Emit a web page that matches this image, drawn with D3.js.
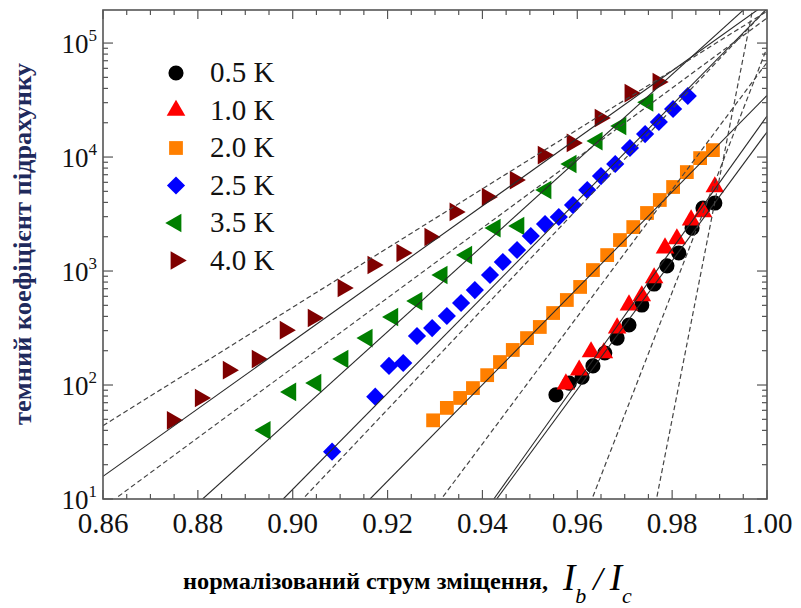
<!DOCTYPE html>
<html>
<head>
<meta charset="utf-8">
<script src="https://cdn.jsdelivr.net/npm/d3@7"></script>
<style>
  body { margin: 0; background: #fff; }
  text { font-family: "Liberation Serif", "DejaVu Serif", serif; }
</style>
</head>
<body>
<svg id="chart" width="801" height="608"></svg>
<script>
// temperatures (legend)
const tempLabels = ['0.5 K', '1.0 K', '2.0 K', '2.5 K', '3.5 K', '4.0 K']
const tempColors = ['#000000', '#ff0000', '#ff7f00', '#0000ff', '#007f00', '#7f0000']

// measured dark counts, x = Ib/Ic
const x05 = [0.9555, 0.9583, 0.9610, 0.9633, 0.9658, 0.9684, 0.9709, 0.9736, 0.9762, 0.9789, 0.9814, 0.9842, 0.9865, 0.9890]
const y05 = [82, 104, 117, 147, 191, 258, 336, 503, 769, 1110, 1440, 2380, 3570, 3950]
const x10 = [0.9576, 0.9604, 0.9629, 0.9656, 0.9684, 0.9709, 0.9736, 0.9762, 0.9785, 0.9810, 0.9840, 0.9865, 0.9890]
const y10 = [102, 135, 195, 191, 316, 503, 604, 869, 1590, 1910, 2800, 3300, 5460]
const x20 = [0.9296, 0.9325, 0.9353, 0.9380, 0.9410, 0.9437, 0.9464, 0.9494, 0.9521, 0.9549, 0.9578, 0.9606,
  0.9633, 0.9663, 0.9690, 0.9718, 0.9747, 0.9774, 0.9802, 0.9831, 0.9859, 0.9886]
const y20 = [49, 63, 77, 94, 122, 159, 203, 258, 323, 428, 557, 725,
  1020, 1380, 1870, 2430, 3230, 4200, 5460, 7380, 9790, 11500]
const x25 = [0.9083, 0.9174, 0.9203, 0.9233, 0.9262, 0.9294, 0.9325, 0.9355, 0.9384, 0.9416, 0.9443, 0.9473,
  0.9502, 0.9532, 0.9561, 0.9591, 0.9621, 0.9650, 0.9680, 0.9711, 0.9743, 0.9772, 0.9802, 0.9833]
const y25 = [26, 79, 147, 156, 269, 316, 403, 524, 681, 923, 1200, 1530,
  2030, 2580, 2980, 3790, 5140, 6810, 8690, 12000, 15900, 20300, 26400, 34300]
const x35 = [0.8942, 0.8996, 0.9049, 0.9106, 0.9157, 0.9211, 0.9262, 0.9315, 0.9367, 0.9427, 0.9477, 0.9534,
  0.9587, 0.9642, 0.9692, 0.9749]
const y35 = [40, 87, 104, 169, 258, 395, 545, 922, 1380, 2380, 2480, 5140,
  8690, 13800, 18700, 30200]
const x40 = [0.8746, 0.8805, 0.8864, 0.8925, 0.8984, 0.9043, 0.9106, 0.9169, 0.9230, 0.9289, 0.9342, 0.9410,
  0.9469, 0.9528, 0.9589, 0.9648, 0.9711, 0.9770]
const y40 = [49, 77, 135, 169, 303, 387, 709, 1130, 1440, 1990, 3300, 4460,
  6280, 10400, 13300, 22000, 36400, 45500]

// fitted lines (solid) and model lines (dashed): [x0, y0, x1, y1]
const solidLines = [
  [0.9430, 10, 1.0, 16600],
  [0.9424, 10, 1.0, 22900],
  [0.9163, 10, 1.0, 34700],
  [0.8980, 10, 1.0, 200000],
  [0.8810, 10, 1.0, 300000],
  [0.8600, 15.8, 1.0, 224000]
]
const dashedLines = [
  [0.9768, 10.5, 0.9970, 200000],
  [0.9633, 10.5, 1.0, 91000],
  [0.9317, 10.5, 1.0, 67600],
  [0.9026, 10.5, 1.0, 200000],
  [0.8632, 10.5, 1.0, 166000],
  [0.8600, 44, 1.0, 190000]
]

const xTicks = [0.86, 0.88, 0.90, 0.92, 0.94, 0.96, 0.98, 1.00]
const yTickExp = [1, 2, 3, 4, 5]

const svg = d3.select('#chart')
const margin = {top: 10, right: 34, bottom: 109, left: 103}
const width = 801 - margin.left - margin.right
const height = 608 - margin.top - margin.bottom
const serif = '"Liberation Serif", "DejaVu Serif", serif'

const x = d3.scaleLinear().domain([0.86, 1.0]).range([0, width])
const y = d3.scaleLog().domain([10, 1.95e5]).range([height, 0])

const g = svg.append('g').attr('transform', 'translate(' + margin.left + ',' + margin.top + ')')

g.append('clipPath').attr('id', 'plotClip')
  .append('rect').attr('width', width).attr('height', height)

// ticks (inward, on all four sides)
const minorX = d3.range(0.86, 1.0001, 0.005)
const minorY = []
for (let e = 1; e <= 5; e++) {
  for (let m = 2; m <= 9; m++) {
    let v = m * Math.pow(10, e)
    if (v < 1.95e5) minorY.push(v)
  }
}
const tickG = g.append('g').attr('stroke', '#555').attr('stroke-width', 1.2)
minorX.forEach(function (v) {
  let isMajor = Math.abs(Math.round(v * 50) - v * 50) < 1e-6
  let len = isMajor ? 9 : 5
  tickG.append('line').attr('x1', x(v)).attr('x2', x(v)).attr('y1', height).attr('y2', height - len)
  tickG.append('line').attr('x1', x(v)).attr('x2', x(v)).attr('y1', 0).attr('y2', len)
})
yTickExp.forEach(function (e) {
  let v = Math.pow(10, e)
  tickG.append('line').attr('x1', 0).attr('x2', 10).attr('y1', y(v)).attr('y2', y(v))
  tickG.append('line').attr('x1', width).attr('x2', width - 10).attr('y1', y(v)).attr('y2', y(v))
})
minorY.forEach(function (v) {
  tickG.append('line').attr('x1', 0).attr('x2', 5).attr('y1', y(v)).attr('y2', y(v))
  tickG.append('line').attr('x1', width).attr('x2', width - 5).attr('y1', y(v)).attr('y2', y(v))
})

// markers
const series = [
  {xs: x05, ys: y05, sym: d3.symbolCircle, size: 180, rot: 0},
  {xs: x10, ys: y10, sym: d3.symbolTriangle, size: 150, rot: 0},
  {xs: x20, ys: y20, sym: d3.symbolSquare, size: 190, rot: 0},
  {xs: x25, ys: y25, sym: d3.symbolSquare, size: 165, rot: 45},
  {xs: x35, ys: y35, sym: d3.symbolTriangle, size: 150, rot: -90},
  {xs: x40, ys: y40, sym: d3.symbolTriangle, size: 150, rot: 90}
]
const drawOrder = [5, 4, 3, 2, 0, 1]
const markG = g.append('g').attr('clip-path', 'url(#plotClip)')
drawOrder.forEach(function (i) {
  let s = series[i]
  let pts = s.xs.map((v, k) => [v, s.ys[k]])
  markG.selectAll('.m' + i)
    .data(pts)
    .enter()
    .append('path')
    .attr('d', d3.symbol().type(s.sym).size(s.size))
    .attr('transform', d => 'translate(' + x(d[0]) + ',' + y(d[1]) + ') rotate(' + s.rot + ')')
    .attr('fill', tempColors[i])
})

// lines on top of the markers
const lineG = g.append('g').attr('clip-path', 'url(#plotClip)').attr('fill', 'none')
lineG.selectAll('.solid')
  .data(solidLines)
  .enter()
  .append('line')
  .attr('x1', d => x(d[0])).attr('y1', d => y(d[1]))
  .attr('x2', d => x(d[2])).attr('y2', d => y(d[3]))
  .attr('stroke', '#2a2a2a').attr('stroke-width', 1.1)
lineG.selectAll('.dash')
  .data(dashedLines)
  .enter()
  .append('line')
  .attr('x1', d => x(d[0])).attr('y1', d => y(d[1]))
  .attr('x2', d => x(d[2])).attr('y2', d => y(d[3]))
  .attr('stroke', '#444').attr('stroke-width', 1.2)
  .attr('stroke-dasharray', '5,3')

// frame
g.append('rect').attr('width', width).attr('height', height)
  .attr('fill', 'none').attr('stroke', '#555').attr('stroke-width', 1.6)

// tick labels
g.selectAll('.xl')
  .data(xTicks)
  .enter()
  .append('text')
  .attr('x', d => x(d))
  .attr('y', height + 34)
  .attr('text-anchor', 'middle')
  .attr('font-family', serif)
  .attr('font-size', 29)
  .attr('fill', '#111')
  .text(d => d.toFixed(2))
const yl = g.selectAll('.yl')
  .data(yTickExp)
  .enter()
  .append('text')
  .attr('x', -6)
  .attr('y', d => y(Math.pow(10, d)) + 10)
  .attr('text-anchor', 'end')
  .attr('font-family', serif)
  .attr('font-size', 27)
  .attr('fill', '#111')
yl.append('tspan').text('10')
yl.append('tspan').attr('dy', -12).attr('font-size', 17).text(d => d)

// legend
const legend = g.append('g').attr('transform', 'translate(73, 63)')
tempLabels.forEach(function (lab, i) {
  let s = series[i]
  let row = legend.append('g').attr('transform', 'translate(0,' + (i * 37.5) + ')')
  row.append('path')
    .attr('d', d3.symbol().type(s.sym).size(s.size))
    .attr('transform', 'rotate(' + s.rot + ')')
    .attr('fill', tempColors[i])
  row.append('text')
    .attr('x', 34).attr('y', 9)
    .attr('font-family', serif)
    .attr('font-size', 29)
    .attr('fill', '#111')
    .text(lab)
})

// axis titles
svg.append('text')
  .attr('transform', 'translate(31,244) rotate(-90)')
  .attr('text-anchor', 'middle')
  .attr('font-family', serif)
  .attr('font-size', 25)
  .attr('font-weight', 'bold')
  .attr('fill', '#1f2a5c')
  .attr('textLength', 362)
  .attr('lengthAdjust', 'spacingAndGlyphs')
  .text('темний коефіцієнт підрахунку')

svg.append('text')
  .attr('x', 183).attr('y', 589)
  .attr('font-family', serif)
  .attr('font-size', 24)
  .attr('font-weight', 'bold')
  .attr('fill', '#000')
  .attr('textLength', 365)
  .attr('lengthAdjust', 'spacingAndGlyphs')
  .text('нормалізований струм зміщення,')
const xt = svg.append('text').attr('x', 563).attr('y', 590).attr('fill', '#000')
  .attr('font-family', serif).attr('font-style', 'italic')
xt.append('tspan').attr('font-size', 37).text('I')
xt.append('tspan').attr('dy', 13).attr('font-size', 22).text('b')
xt.append('tspan').attr('dx', 7).attr('dy', -13).attr('font-size', 34).text('/')
xt.append('tspan').attr('dx', 7).attr('font-size', 37).text('I')
xt.append('tspan').attr('dy', 13).attr('font-size', 22).text('c')
</script>
</body>
</html>
